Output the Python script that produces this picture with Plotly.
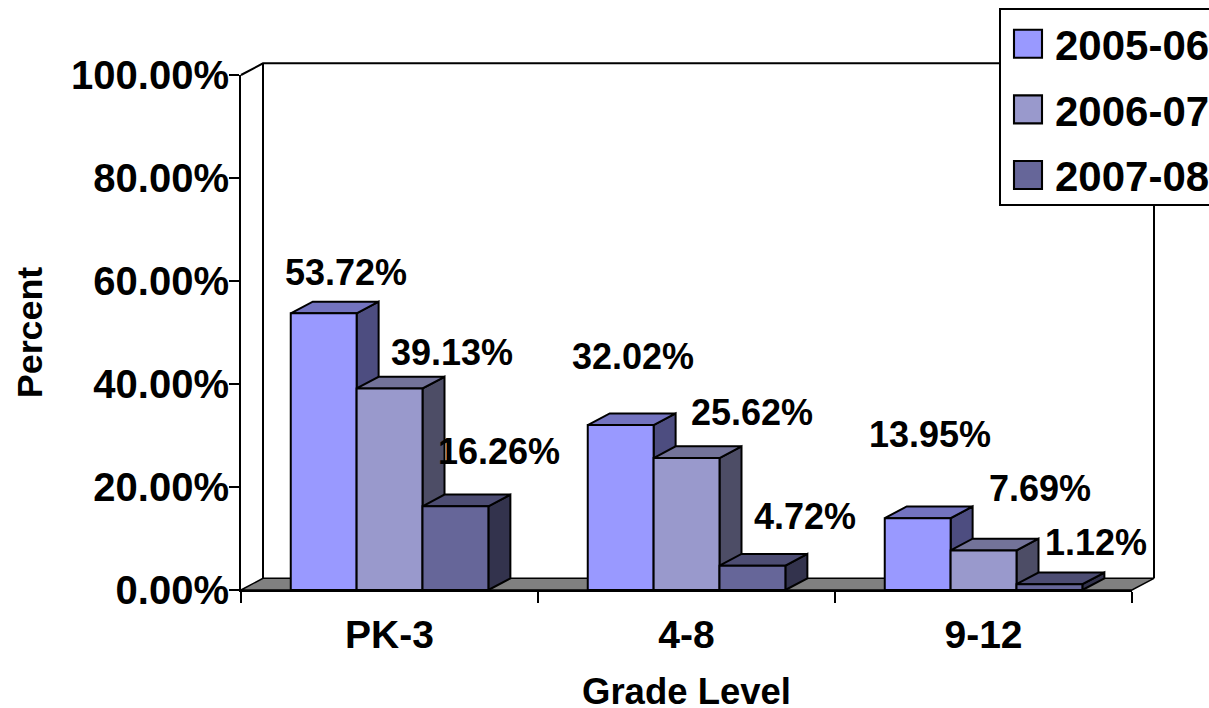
import plotly.graph_objects as go

categories = ["PK-3", "4-8", "9-12"]
series_names = ["2005-06", "2006-07", "2007-08"]
values_2005 = [53.72, 32.02, 13.95]
values_2006 = [39.13, 25.62, 7.69]
values_2007 = [16.26, 4.72, 1.12]
y_ticks = [0, 20, 40, 60, 80, 100]
y_tick_labels = ["0.00%", "20.00%", "40.00%", "60.00%", "80.00%", "100.00%"]

W, H = 1209, 708
FX0, FX1, FY0, FY1 = 241, 1132, 590, 75  # front plane pixel box
PX_X = (FX1 - FX0) / 3        # pixels per category
PX_Y = (FY0 - FY1) / 100      # pixels per percent
DX = 22 / PX_X                # depth in category units
DY = 11.7 / PX_Y              # depth in percent units
PAD = 4                       # room for line widths round the drawing axes
BAR_W = 0.2218
GROUP_START = 0.1675
FONT = "Liberation Sans"
SERIES = [values_2005, values_2006, values_2007]
FRONT = ["#9999FF", "#9999CC", "#666699"]
TOP = ["#7373BF", "#737399", "#4D4D73"]
SIDE = ["#4D4D80", "#4D4D66", "#33334D"]
# label offsets (px) from each bar's top centre
LABEL_OFFSETS = [
    [(22, 41), (62, 36), (44, 55)],
    [(12, 69), (65, 46), (53, 49)],
    [(12, 84), (56, 62), (47, 42)],
]

fig = go.Figure()


def poly(xs, ys, fill, lw=2):
    fig.add_trace(go.Scatter(
        x=xs + xs[:1], y=ys + ys[:1], mode="lines", fill="toself", fillcolor=fill,
        line=dict(color="black", width=lw), showlegend=False, hoverinfo="skip",
        xaxis="x2", yaxis="y2"))


# legend entries live on the visible axes, which carry the lines, ticks and titles
for s, name in enumerate(series_names):
    fig.add_trace(go.Scatter(
        x=[None], y=[None], mode="markers", name=name, legendgroup=name,
        marker=dict(symbol="square", size=16, color=FRONT[s],
                    line=dict(color="black", width=1.2))))

# back wall and floor
fig.add_trace(go.Scatter(
    x=[0, DX, 3 + DX, 3 + DX], y=[100, 100 + DY, 100 + DY, DY],
    mode="lines", line=dict(color="black", width=2), showlegend=False,
    hoverinfo="skip", xaxis="x2", yaxis="y2"))
fig.add_trace(go.Scatter(
    x=[DX, DX], y=[100 + DY, DY], mode="lines", line=dict(color="black", width=2),
    showlegend=False, hoverinfo="skip", xaxis="x2", yaxis="y2"))
poly([0, DX, 3 + DX, 3], [0, DY, DY, 0], "#808080", 1.5)

# bars, left to right so each front face covers its neighbour's side
for c in range(len(categories)):
    for s, vals in enumerate(SERIES):
        v = vals[c]
        x0 = c + GROUP_START + s * BAR_W
        x1 = x0 + BAR_W
        poly([x1, x1 + DX, x1 + DX, x1], [0, DY, v + DY, v], SIDE[s])
        poly([x0, x0 + DX, x1 + DX, x1], [v, v + DY, v + DY, v], TOP[s])
        poly([x0, x1, x1, x0], [0, 0, v, v], FRONT[s])

annotations = []
for c in range(len(categories)):
    for s, vals in enumerate(SERIES):
        xc = c + GROUP_START + (s + 0.5) * BAR_W
        ox, oy = LABEL_OFFSETS[c][s]
        annotations.append(dict(
            x=xc, y=vals[c], xref="x2", yref="y2", text=f"{vals[c]:.2f}%",
            showarrow=False, xshift=ox, yshift=oy,
            font=dict(family=FONT, size=36, color="black", weight=700)))

fig.update_layout(
    width=W, height=H, autosize=False,
    margin=dict(l=0, r=0, t=0, b=0, pad=0, autoexpand=False),
    paper_bgcolor="white", plot_bgcolor="rgba(0,0,0,0)",
    font=dict(family=FONT, color="black"),
    annotations=annotations,
    legend=dict(
        x=999 / W, y=1 - 8 / H, xanchor="left", yanchor="top",
        bgcolor="white", bordercolor="black", borderwidth=2,
        tracegroupgap=8, itemwidth=44, itemsizing="trace",
        font=dict(family=FONT, size=42, color="black", weight=700)),
    xaxis=dict(
        domain=[FX0 / W, FX1 / W], range=[0, 3], showgrid=False, zeroline=False,
        showline=True, linecolor="black", linewidth=2, automargin=True,
        tickmode="array", tickvals=[0.5, 1.5, 2.5], ticktext=categories,
        ticks="outside", ticklen=9, tickcolor="rgba(0,0,0,0)",
        tickfont=dict(family=FONT, size=39, color="black", weight=700),
        minor=dict(tickmode="array", tickvals=[0, 1, 2, 3], ticks="outside",
                   ticklen=11, tickwidth=2, tickcolor="black", showgrid=False),
        title=dict(text="Grade Level", standoff=19,
                   font=dict(family=FONT, size=36.5, color="black", weight=700))),
    yaxis=dict(
        domain=[1 - FY0 / H, 1 - FY1 / H], range=[0, 100], showgrid=False, zeroline=False,
        showline=True, linecolor="black", linewidth=2,
        tickmode="array", tickvals=y_ticks, ticktext=y_tick_labels, ticks="outside",
        ticklen=10, tickwidth=2, tickcolor="black", ticklabelstandoff=-8,
        tickfont=dict(family=FONT, size=40, color="black", weight=700),
        title=dict(text="Percent", standoff=18,
                   font=dict(family=FONT, size=35.8, color="black", weight=700))),
    xaxis2=dict(
        visible=False, anchor="y2", fixedrange=True,
        domain=[(FX0 - PAD) / W, (FX1 + 22 + PAD) / W],
        range=[-PAD / PX_X, 3 + DX + PAD / PX_X]),
    yaxis2=dict(
        visible=False, anchor="x2", fixedrange=True,
        domain=[1 - (FY0 + PAD) / H, 1 - (FY1 - 11.7 - PAD) / H],
        range=[-PAD / PX_Y, 100 + DY + PAD / PX_Y]),
)

# page margin off; legend swatches enlarged past the size cap of the legend,
# legend box trimmed to the reference's height, x title nudged past the margin limit
post = """
document.body.style.margin = '0';
var gd = document.getElementById('{plot_id}');
function grow() {
  gd.querySelectorAll('.legend .legendpoints path').forEach(function (p) {
    var t = p.getAttribute('transform') || '';
    if (t.indexOf('scale') < 0) p.setAttribute('transform', t + ' scale(1.75)');
  });
  gd.querySelectorAll('.legend rect.bg').forEach(function (r) {
    r.setAttribute('height', '196');
  });
  gd.querySelectorAll('.g-xtitle').forEach(function (g) {
    g.setAttribute('transform', 'translate(0,5)');
  });
}
grow();
if (gd.on) gd.on('plotly_afterplot', grow);
setTimeout(grow, 50);
"""
fig.write_html("out.html", post_script=post, config={"displayModeBar": False})
